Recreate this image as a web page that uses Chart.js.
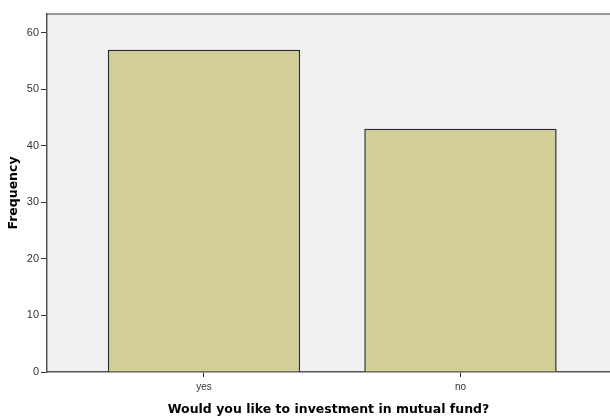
<!DOCTYPE html>
<html>
<head>
<meta charset="utf-8">
<script src="https://cdn.jsdelivr.net/npm/chart.js@4.4.0/dist/chart.umd.min.js"></script>
<style>
  html, body { margin: 0; padding: 0; background: #fff; overflow: hidden; }
  #wrap { width: 610px; height: 416px; }
</style>
</head>
<body>
<div id="wrap"><canvas id="myChart"></canvas></div>
<script>
// categories and counts
var categories = ["yes", "no"];
var frequency = [57, 43];
var yTicks = [0, 10, 20, 30, 40, 50, 60];

var points = frequency.map(function (v, i) { return { x: i + 1, y: v }; });

// light grey plot panel with a frame on top
var panelBg = {
  id: "panelBg",
  beforeDraw: function (chart) {
    var a = chart.chartArea, ctx = chart.ctx;
    ctx.save();
    ctx.fillStyle = "#f0f0f0";
    ctx.fillRect(a.left, a.top, a.right - a.left, a.bottom - a.top);
    ctx.strokeStyle = "#7a7a7a";
    ctx.lineWidth = 1.5;
    ctx.beginPath();
    ctx.moveTo(a.left, a.top);
    ctx.lineTo(a.right, a.top);
    ctx.stroke();
    ctx.restore();
  }
};

var canvasElement = document.getElementById("myChart");
var config = {
  type: "bar",
  data: {
    datasets: [{
      label: "Frequency",
      data: points,
      backgroundColor: "#d3ce97",
      borderColor: "#2a2a2a",
      borderWidth: 1.5,
      barPercentage: 0.75,
      categoryPercentage: 1
    }]
  },
  options: {
    responsive: true,
    maintainAspectRatio: false,
    animation: false,
    layout: { padding: { top: 14, right: 0, bottom: 0, left: 0 } },
    plugins: { legend: { display: false }, tooltip: { enabled: false } },
    scales: {
      x: {
        type: "linear",
        offset: false,
        min: 0.388,
        max: 2.583,
        afterBuildTicks: function (scale) {
          scale.ticks = categories.map(function (c, i) { return { value: i + 1 }; });
        },
        afterFit: function (scale) { scale.height = 44; },
        ticks: {
          color: "#333",
          font: { family: "Liberation Sans", size: 10 },
          padding: 4,
          maxRotation: 0,
          callback: function (v) { return categories[v - 1]; }
        },
        grid: { offset: false, drawOnChartArea: false, tickLength: 5, tickColor: "#333", tickWidth: 1 },
        border: { color: "#555", width: 1.5 },
        title: {
          display: true,
          text: "Would you like to investment in mutual fund?",
          color: "#000",
          font: { family: "DejaVu Sans", size: 12.5, weight: "bold", lineHeight: 1 },
          padding: { top: 0, bottom: 0 }
        }
      },
      y: {
        min: 0,
        max: 63.3,
        afterBuildTicks: function (scale) {
          scale.ticks = yTicks.map(function (v) { return { value: v }; });
        },
        afterFit: function (scale) { scale.width = 47; },
        ticks: {
          color: "#333",
          font: { family: "Liberation Sans", size: 11 },
          padding: 2
        },
        grid: { drawOnChartArea: false, tickLength: 6, tickColor: "#333", tickWidth: 1 },
        border: { color: "#555", width: 1.5 },
        title: {
          display: true,
          text: "Frequency",
          color: "#000",
          font: { family: "DejaVu Sans", size: 12.5, weight: "bold" },
          padding: { top: 6, bottom: 0 }
        }
      }
    }
  },
  plugins: [panelBg]
};
var myChart = new Chart(canvasElement, config);
</script>
</body>
</html>
